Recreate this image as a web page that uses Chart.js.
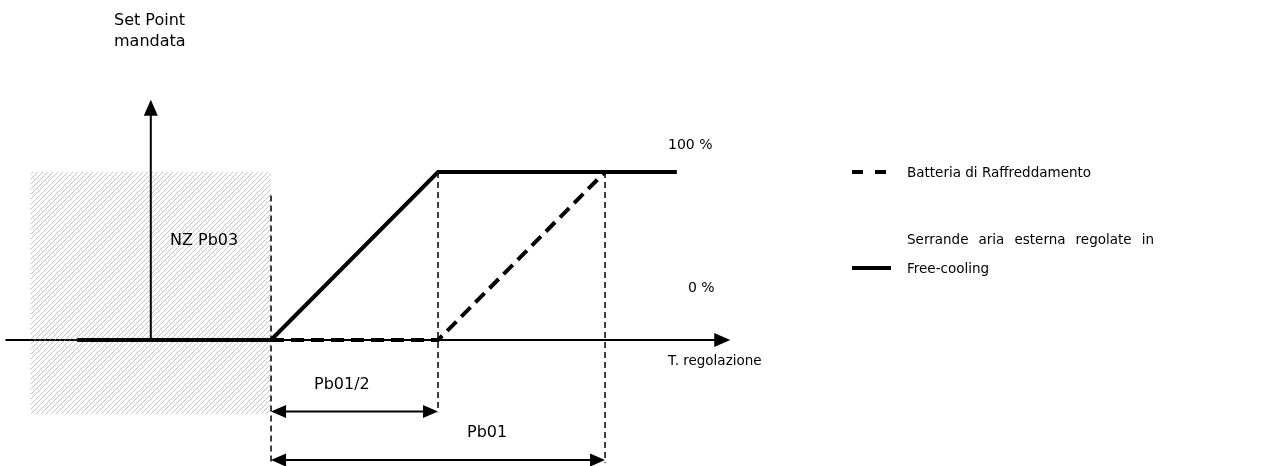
<!DOCTYPE html>
<html>
<head>
<meta charset="utf-8">
<script src="https://cdn.jsdelivr.net/npm/chart.js@4.4.1/dist/chart.umd.min.js"></script>
<style>
  html, body { margin: 0; padding: 0; background: #fff; }
  #wrap { width: 1269px; height: 466px; }
</style>
</head>
<body>
<div id="wrap"><canvas id="chart" width="1269" height="466"></canvas></div>
<script>
// x in Pb01/2 units (0 = end of NZ band), y in % opening
const freeCoolingX = [-1.16, 0, 1, 2.43];
const freeCoolingY = [0, 0, 100, 100];
const coolingCoilX = [0, 1, 2];
const coolingCoilY = [0, 0, 100];

// neutral zone band and dimension marks
const nzBand = [-1.44, 0];       // x range
const nzBandY = [-44, 100];      // y range
const guideX = [0, 1, 2];
const guideTop = [86, 100, 100];
const guideBottom = [-73, -43, -73];
const dimStart = [0, 0];
const dimEnd = [1, 2];
const dimY = [-42.5, -71.5];
const dimLabels = ['Pb01/2', 'Pb01'];

const axisX = [-1.59, 2.75];     // horizontal axis extent
const axisYpos = -0.72;          // vertical axis position
const axisYtop = 143;

const levelLabels = ['100 %', '0 %'];
const seriesNames = ['Batteria di Raffreddamento', 'Serrande aria esterna regolate in', 'Free-cooling'];

const FONT_BIG = '16px "DejaVu Sans", Verdana, sans-serif';
const FONT = '13.5px "DejaVu Sans", Verdana, sans-serif';
const FONT_MID = '14px "DejaVu Sans", Verdana, sans-serif';

function hatchPattern(ctx) {
    const c = document.createElement('canvas');
    c.width = 5; c.height = 5;
    const p = c.getContext('2d');
    p.strokeStyle = 'rgba(150,150,150,0.55)';
    p.lineWidth = 1;
    p.beginPath();
    p.moveTo(0, 5); p.lineTo(5, 0);
    p.stroke();
    return ctx.createPattern(c, 'repeat');
}

function arrowHead(ctx, x, y, dir, len, half) {
    // dir: 'up', 'right', 'left'
    ctx.beginPath();
    if (dir === 'up') {
        ctx.moveTo(x, y); ctx.lineTo(x - half, y + len); ctx.lineTo(x + half, y + len);
    } else if (dir === 'right') {
        ctx.moveTo(x, y); ctx.lineTo(x - len, y - half); ctx.lineTo(x - len, y + half);
    } else {
        ctx.moveTo(x, y); ctx.lineTo(x + len, y - half); ctx.lineTo(x + len, y + half);
    }
    ctx.closePath();
    ctx.fill();
}

const diagramPlugin = {
    id: 'diagram',
    beforeDatasetsDraw(chart) {
        const ctx = chart.ctx;
        const sx = chart.scales.x, sy = chart.scales.y;
        const px = v => sx.getPixelForValue(v);
        const py = v => sy.getPixelForValue(v);
        ctx.save();

        // horizontal axis
        ctx.strokeStyle = '#000';
        ctx.lineWidth = 2;
        ctx.beginPath();
        ctx.moveTo(px(axisX[0]), py(0));
        ctx.lineTo(px(axisX[1]) - 14, py(0));
        ctx.stroke();
        ctx.fillStyle = '#000';
        arrowHead(ctx, px(axisX[1]), py(0), 'right', 16, 7);

        // neutral zone hatch
        ctx.fillStyle = hatchPattern(ctx);
        ctx.fillRect(px(nzBand[0]), py(nzBandY[1]), px(nzBand[1]) - px(nzBand[0]), py(nzBandY[0]) - py(nzBandY[1]));

        // vertical axis
        ctx.strokeStyle = '#000';
        ctx.lineWidth = 2;
        ctx.beginPath();
        ctx.moveTo(px(axisYpos), py(0));
        ctx.lineTo(px(axisYpos), py(axisYtop) + 14);
        ctx.stroke();
        ctx.fillStyle = '#000';
        arrowHead(ctx, px(axisYpos), py(axisYtop), 'up', 16, 7);

        // dashed guides
        ctx.lineWidth = 1.5;
        ctx.setLineDash([6, 4]);
        guideX.forEach((g, i) => {
            ctx.beginPath();
            ctx.moveTo(px(g), py(guideTop[i]));
            ctx.lineTo(px(g), py(guideBottom[i]));
            ctx.stroke();
        });
        ctx.setLineDash([]);
        ctx.restore();
    },
    afterDatasetsDraw(chart) {
        const ctx = chart.ctx;
        const sx = chart.scales.x, sy = chart.scales.y;
        const px = v => sx.getPixelForValue(v);
        const py = v => sy.getPixelForValue(v);
        ctx.save();
        ctx.fillStyle = '#000';
        ctx.strokeStyle = '#000';

        // dimension arrows
        ctx.lineWidth = 2;
        dimStart.forEach((s, i) => {
            const x1 = px(s), x2 = px(dimEnd[i]), y = py(dimY[i]);
            ctx.beginPath();
            ctx.moveTo(x1 + 10, y);
            ctx.lineTo(x2 - 10, y);
            ctx.stroke();
            arrowHead(ctx, x1, y, 'left', 15, 6.5);
            arrowHead(ctx, x2, y, 'right', 15, 6.5);
        });

        // text
        ctx.textBaseline = 'middle';
        ctx.textAlign = 'left';
        ctx.font = FONT_BIG;
        ctx.fillText('Set Point', 114, 21);
        ctx.fillText('mandata', 114, 42);
        ctx.fillText('NZ Pb03', 170, 241);
        ctx.fillText(dimLabels[0], 314, 385);
        ctx.fillText(dimLabels[1], 467, 433);
        ctx.font = FONT_MID;
        ctx.fillText(levelLabels[0], 668, 145);
        ctx.fillText(levelLabels[1], 688, 288);
        ctx.font = FONT;
        ctx.fillText('T. regolazione', 668, 361);

        // legend
        ctx.lineWidth = 4;
        ctx.setLineDash([11, 12]);
        ctx.beginPath();
        ctx.moveTo(852, 172); ctx.lineTo(890, 172);
        ctx.stroke();
        ctx.setLineDash([]);
        ctx.beginPath();
        ctx.moveTo(852, 268); ctx.lineTo(891, 268);
        ctx.stroke();

        ctx.fillText(seriesNames[0], 907, 173);
        // justified line
        const words = seriesNames[1].split(' ');
        const lineW = 247;
        const wordsW = words.reduce((a, w) => a + ctx.measureText(w).width, 0);
        const gap = (lineW - wordsW) / (words.length - 1);
        let cx = 907;
        words.forEach(w => {
            ctx.fillText(w, cx, 240);
            cx += ctx.measureText(w).width + gap;
        });
        ctx.fillText(seriesNames[2], 907, 269);
        ctx.restore();
    }
};

new Chart(document.getElementById('chart'), {
    type: 'scatter',
    data: {
        datasets: [
            {
                label: seriesNames[2],
                data: freeCoolingX.map((x, i) => ({ x: x, y: freeCoolingY[i] })),
                showLine: true,
                borderColor: '#000',
                borderWidth: 4,
                pointRadius: 0,
                borderJoinStyle: 'miter',
                borderCapStyle: 'butt'
            },
            {
                label: seriesNames[0],
                data: coolingCoilX.map((x, i) => ({ x: x, y: coolingCoilY[i] })),
                showLine: true,
                borderColor: '#000',
                borderWidth: 4,
                borderDash: [13, 7],
                pointRadius: 0,
                borderCapStyle: 'butt'
            }
        ]
    },
    options: {
        responsive: false,
        animation: false,
        layout: { padding: 0 },
        plugins: {
            legend: { display: false },
            tooltip: { enabled: false }
        },
        scales: {
            x: { type: 'linear', display: false, min: -1.623, max: 5.976 },
            y: { type: 'linear', display: false, min: -75, max: 202.4 }
        }
    },
    plugins: [diagramPlugin]
});
</script>
</body>
</html>
